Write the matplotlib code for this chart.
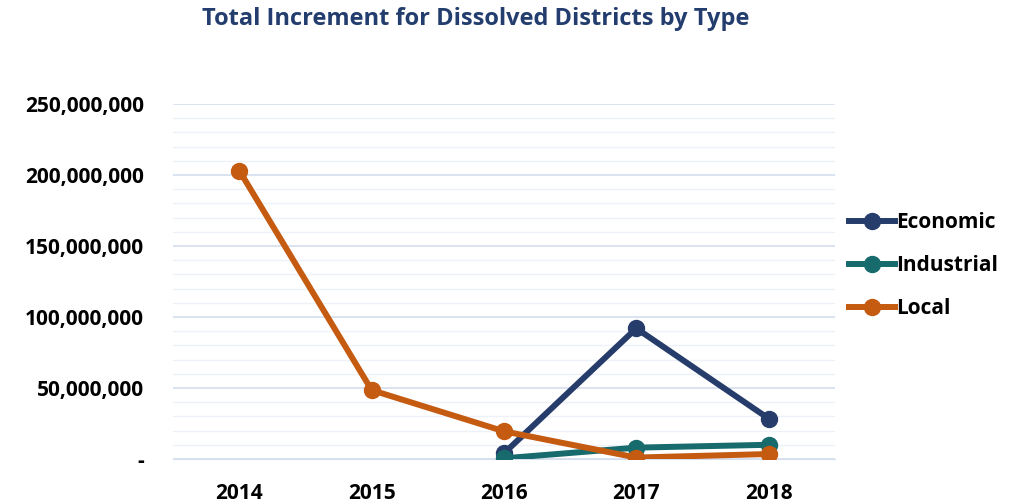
import numpy as np
import matplotlib.pyplot as plt
from matplotlib.ticker import MultipleLocator, FuncFormatter

years = ['2014', '2015', '2016', '2017', '2018']
economic = [np.nan, np.nan, 4_000_000, 92_000_000, 28_500_000]
industrial = [np.nan, np.nan, 500_000, 8_000_000, 10_000_000]
local = [203_000_000, 48_500_000, 19_500_000, 1_000_000, 3_500_000]

plt.rcParams['font.family'] = ['Open Sans', 'DejaVu Sans']
plt.rcParams['font.weight'] = 'bold'

fig = plt.figure(figsize=(10.13, 5.04), dpi=100)
ax = fig.add_axes([0.171, 0.0893, 0.653, 0.7044])

x = np.arange(len(years))
series = [('Economic', economic, '#263D6B'),
          ('Industrial', industrial, '#176B6C'),
          ('Local', local, '#C55A11')]
for name, vals, col in series:
    ax.plot(x, vals, color=col, lw=4.3, marker='o', markersize=11.5,
            label=name, zorder=3)

ax.set_xlim(-0.5, 4.5)
ax.set_ylim(0, 250_000_000)
ax.yaxis.set_major_locator(MultipleLocator(50_000_000))
ax.yaxis.set_minor_locator(MultipleLocator(10_000_000))
ax.yaxis.set_major_formatter(FuncFormatter(lambda v, p: '-' if v == 0 else f'{int(v):,}'))
ax.set_xticks(x)
ax.set_xticklabels(years)
ax.grid(which='major', axis='y', color='#D6DEEE', lw=1.2, zorder=0)
ax.grid(which='minor', axis='y', color='#EFF1F8', lw=1.0, zorder=0)
ax.tick_params(which='both', length=0)
ax.tick_params(axis='y', pad=21, labelsize=15)
ax.tick_params(axis='x', pad=17, labelsize=15)
for s in ax.spines.values():
    s.set_visible(False)
ax.spines['bottom'].set_visible(True)
ax.spines['bottom'].set_color('#D6DEEE')

fig.text(0.47, 0.962, 'Total Increment for Dissolved Districts by Type',
         ha='center', va='center', fontsize=17, color='#233D6E', fontweight='bold')

ax.legend(loc='center left', bbox_to_anchor=(1.0, 0.545), frameon=False,
          fontsize=15, handlelength=2.2, handletextpad=0.05, labelspacing=1.05,
          borderaxespad=0.3)

fig.savefig('out.png', dpi=100)
